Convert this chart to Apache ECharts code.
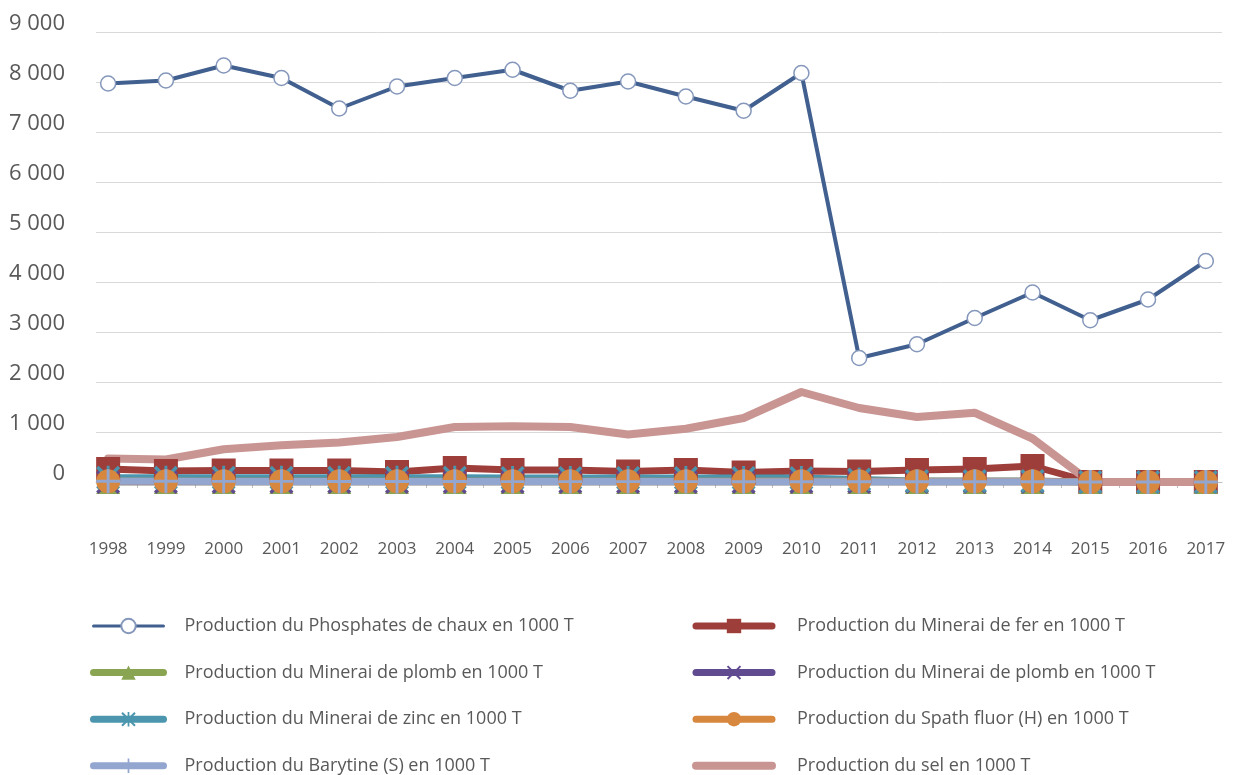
<!DOCTYPE html>
<html lang="fr" style="height: 100%">
<head>
    <meta charset="utf-8">
    <title>Production minière 1998-2017</title>
    <script src="https://cdn.jsdelivr.net/npm/echarts@6/dist/echarts.min.js"></script>
    <style>
        body { margin: 0; height: 100%; background: #fff; }
        #main { width: 1247px; height: 775px; }
    </style>
</head>
<body>
    <div id="main"></div>

    <script>
        // années (axe des x)
        var years = [1998, 1999, 2000, 2001, 2002, 2003, 2004, 2005, 2006, 2007,
                     2008, 2009, 2010, 2011, 2012, 2013, 2014, 2015, 2016, 2017];

        // valeurs (en 1000 T)
        var phosphates = [7970, 8030, 8330, 8080, 7470, 7910, 8080, 8245, 7825, 8010,
                          7710, 7425, 8180, 2480, 2755, 3280, 3790, 3235, 3650, 4420];
        var minFer = [260, 220, 230, 230, 230, 200, 280, 240, 240, 210,
                      240, 190, 220, 210, 240, 260, 320, 0, 0, 0];
        var minPlomb = [0, 0, 0, 0, 0, 0, 0, 0, 0, 0,
                        0, 0, 0, 0, 0, 0, 0, 0, 0, 0];
        var minPlomb2 = [0, 0, 0, 0, 0, 0, 0, 0, 0, 0,
                         0, 0, 0, 0, 0, 0, 0, 0, 0, 0];
        var minZinc = [85, 85, 85, 85, 85, 85, 85, 80, 80, 80,
                       80, 80, 80, 50, 20, 20, 20, 0, 0, 0];
        var spathFluor = [15, 15, 15, 15, 15, 15, 15, 15, 15, 15,
                          15, 15, 15, 15, 15, 15, 15, 0, 0, 0];
        var barytine = [15, 15, 12, 12, 10, 10, 10, 8, 8, 8,
                        8, 6, 6, 5, 5, 5, 5, 0, 0, 0];
        var sel = [470, 450, 655, 735, 790, 900, 1100, 1115, 1100, 950,
                   1065, 1280, 1800, 1480, 1300, 1385, 870, 0, 0, 0];

        var yTicks = [0, 1000, 2000, 3000, 4000, 5000, 6000, 7000, 8000, 9000];

        var names = [
            'Production du Phosphates de chaux en 1000 T',
            'Production du Minerai de fer en 1000 T',
            'Production du Minerai de plomb en 1000 T',
            'Production du Minerai de plomb en 1000 T ', // espace final : 2e série homonyme
            'Production du Minerai de zinc en 1000 T',
            'Production du Spath fluor (H) en 1000 T',
            'Production du Barytine (S) en 1000 T',
            'Production du sel en 1000 T'
        ];

        var textColor = '#595959';
        var fontName = 'Open Sans';

        // symboles personnalisés
        var symX = 'path://M1,0 L5,4 L9,0 L10,1 L6,5 L10,9 L9,10 L5,6 L1,10 L0,9 L4,5 L0,1 Z';
        var symStar = 'path://M1,0 L5,4 L9,0 L10,1 L6,5 L10,9 L9,10 L5,6 L1,10 L0,9 L4,5 L0,1 Z M4.4,0 L5.6,0 L5.6,10 L4.4,10 Z';
        var symPlus = 'path://M4.4,0 L5.6,0 L5.6,4.4 L10,4.4 L10,5.6 L5.6,5.6 L5.6,10 L4.4,10 L4.4,5.6 L0,5.6 L0,4.4 L4.4,4.4 Z';

        function pairs(vals) {
            return years.map(function (y, i) { return [y, vals[i]]; });
        }

        // tirets de l'axe x entre les années
        var midTicks = years.slice(0, -1).map(function (y) { return y + 0.5; });

        function makeSeries(name, vals, color, width, symbol, size, extra) {
            var s = {
                name: name,
                type: 'line',
                data: pairs(vals),
                symbol: symbol,
                symbolSize: size,
                showSymbol: symbol !== 'none',
                lineStyle: { color: color, width: width, cap: 'round', join: 'round' },
                itemStyle: { color: color },
                emphasis: { disabled: true }
            };
            if (extra) { Object.assign(s, extra); }
            return s;
        }

        var series = [
            makeSeries(names[0], phosphates, '#41608f', 4, 'circle', 15, {
                itemStyle: { color: '#ffffff', borderColor: '#8597bb', borderWidth: 1.5 }
            }),
            makeSeries(names[1], minFer, '#9e3e3b', 7, 'rect', 24),
            makeSeries(names[2], minPlomb, '#8aa552', 7, 'triangle', 24),
            makeSeries(names[3], minPlomb2, '#604b90', 7, symX, 24),
            makeSeries(names[4], minZinc, '#4b96ae', 7, symStar, 24),
            makeSeries(names[5], spathFluor, '#d8873e', 7, 'circle', 24),
            makeSeries(names[6], barytine, '#92a6d0', 7, symPlus, 24),
            makeSeries(names[7], sel, '#c99593', 8, 'none', 0)
        ];

        var legendText = { color: textColor, fontSize: 18, fontFamily: fontName, padding: [0, 0, 0, 16], lineHeight: 16 };

        var chart = echarts.init(document.getElementById('main'));
        chart.setOption({
            animation: false,
            textStyle: { fontFamily: fontName },
            grid: { left: 96, right: 25, top: 32, bottom: 293 },
            legend: [
                {
                    orient: 'vertical', left: 90, top: 617, height: 180, padding: 0,
                    itemWidth: 70, itemHeight: 18, itemGap: 28.6,
                    textStyle: legendText,
                    lineStyle: { width: 'inherit' },
                    selectedMode: false,
                    data: [{ name: names[0], lineStyle: { width: 3 } }, names[2], names[4], names[6]]
                },
                {
                    orient: 'vertical', left: 692, top: 617, height: 180, padding: 0,
                    itemWidth: 76, itemHeight: 18, itemGap: 28.6,
                    textStyle: Object.assign({}, legendText, { padding: [0, 0, 0, 20] }),
                    lineStyle: { width: 'inherit' },
                    selectedMode: false,
                    data: [names[1], names[3], names[5], { name: names[7], itemStyle: { opacity: 0 } }]
                }
            ],
            xAxis: {
                type: 'value',
                min: 1997.79,
                max: 2017.28,
                splitLine: { show: false },
                axisLine: { show: true, lineStyle: { color: '#bfbfbf', width: 1 } },
                axisTick: { show: true, length: 6, customValues: midTicks, lineStyle: { color: '#bfbfbf' } },
                axisLabel: {
                    customValues: years,
                    margin: 59,
                    color: textColor,
                    fontSize: 17,
                    fontFamily: fontName,
                    formatter: function (v) { return String(v); }
                }
            },
            yAxis: {
                type: 'value',
                min: 0,
                max: 9000,
                interval: 1000,
                axisLine: { show: false },
                axisTick: { show: false },
                splitLine: { lineStyle: { color: '#d9d9d9', width: 1 } },
                axisLabel: {
                    margin: 31,
                    color: textColor,
                    fontSize: 22,
                    fontFamily: fontName,
                    verticalAlign: 'bottom',
                    lineHeight: 16,
                    formatter: function (v) {
                        return yTicks.indexOf(v) < 0 ? '' : String(v).replace(/\B(?=(\d{3})+(?!\d))/g, ' ');
                    }
                }
            },
            series: series
        });
    </script>
</body>
</html>
